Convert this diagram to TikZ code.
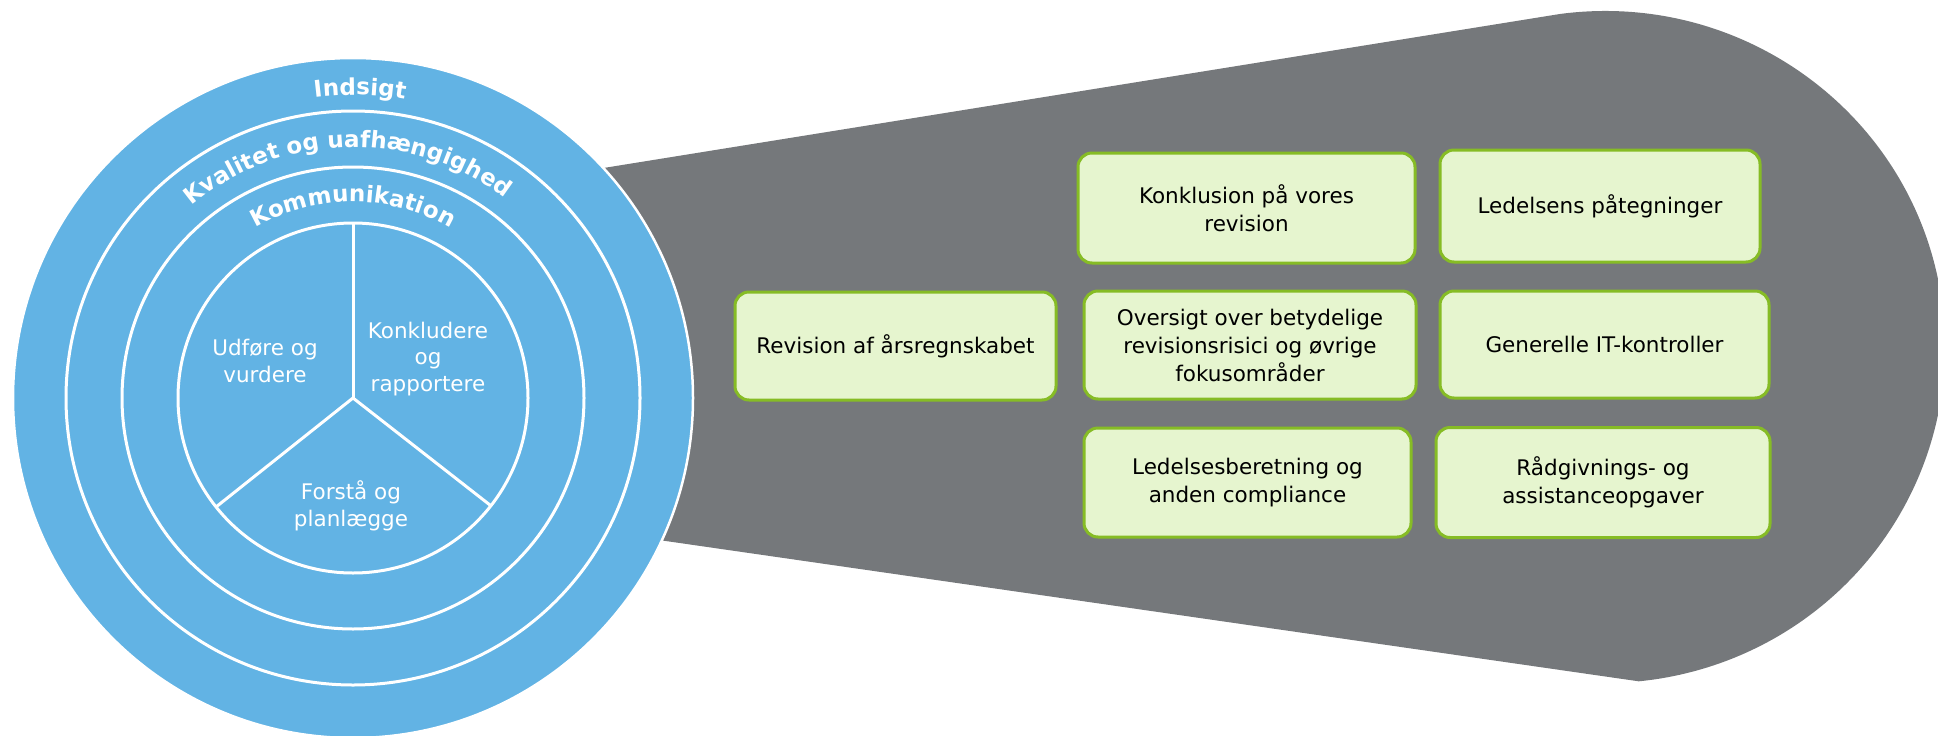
\documentclass[tikz,border=0pt]{standalone}
\usepackage{fontspec}
\setmainfont{DejaVu Sans}
\usetikzlibrary{decorations.text}
\definecolor{dblue}{HTML}{62B3E4}
\definecolor{dgray}{HTML}{75787B}
\definecolor{lgreen}{HTML}{E6F5CF}
\definecolor{dgreen}{HTML}{86BC25}
\newcommand\ringfont{\bfseries\fontsize{23}{23}\selectfont}
\newcommand\boxfont{\fontsize{21.5}{28}\selectfont}
\newcommand\piefont{\fontsize{21.5}{26.5}\selectfont}
\tikzset{
  ring/.style={draw=white, line width=3pt},
  infobox/.style={draw=dgreen, fill=lgreen, line width=3pt, rounded corners=14pt,
    align=center, font=\boxfont, text=black, inner sep=0pt},
  pietext/.style={align=center, font=\piefont, text=white, inner sep=0pt},
  arctext/.style={decorate, decoration={text along path, text align=center, text color=white}}
}
\begin{document}
\begin{tikzpicture}[x=1pt,y=-1pt]
\useasboundingbox (0,0) rectangle (1938,736);
% grey funnel
\coordinate (gc) at (1605,347);
\coordinate (p1) at (560,175);
\path (gc) ++(-97.6:340 and 336) coordinate (pt);
\coordinate (p2) at (620,534.4);
\fill[dgray] (p1) -- (pt) arc[start angle=-97.6, end angle=84.3, x radius=340, y radius=336]
  -- (p2) -- cycle;
% blue circle
\coordinate (c) at (353,398);
\fill[dblue, draw=white, line width=2.5pt] (c) circle[radius=340];
\draw[ring] (c) circle[radius=287];
\draw[ring] (c) circle[radius=231];
\draw[ring] (c) circle[radius=175];
\path (c) ++(270:175) coordinate (s1);
\path (c) ++(141.5:175) coordinate (s2);
\path (c) ++(38:175) coordinate (s3);
\draw[ring] (c) -- (s1);
\draw[ring] (c) -- (s2);
\draw[ring] (c) -- (s3);
% curved labels
\path[arctext, decoration={text={|\ringfont|Indsigt}}]
  (c) ++(181.3:303) arc[start angle=181.3, end angle=361.3, radius=303];
\path[arctext, decoration={text={|\ringfont|Kvalitet og uafhængighed}}]
  (c) ++(178.6:251) arc[start angle=178.6, end angle=358.6, radius=251];
\path[arctext, decoration={text={|\ringfont|Kommunikation}}]
  (c) ++(180:196) arc[start angle=180, end angle=360, radius=196];
% pie texts
\node[pietext] (udf) at (265,361) {Udføre og\\vurdere};
\node[pietext] (konk) at (428,359) {Konkludere\\og\\rapportere};
\node[pietext] (forst) at (351,506) {Forstå og\\planlægge};
% boxes
\node[infobox, minimum width=321pt, minimum height=108pt] (a) at (895.5,346) {Revision af årsregnskabet};
\node[infobox, minimum width=337pt, minimum height=110pt] (b) at (1246.5,208) {Konklusion på vores\\revision};
\node[infobox, minimum width=320pt, minimum height=112pt] (cc) at (1600,206) {Ledelsens påtegninger};
\node[infobox, minimum width=332pt, minimum height=108pt] (d) at (1250,345) {Oversigt over betydelige\\revisionsrisici og øvrige\\fokusområder};
\node[infobox, minimum width=329pt, minimum height=107pt] (e) at (1604.5,344.5) {Generelle IT-kontroller};
\node[infobox, minimum width=327pt, minimum height=109pt] (f) at (1247.5,482.5) {Ledelsesberetning og\\anden compliance};
\node[infobox, minimum width=334pt, minimum height=110pt] (g) at (1603,482.5) {Rådgivnings- og\\assistanceopgaver};
\end{tikzpicture}
\end{document}
